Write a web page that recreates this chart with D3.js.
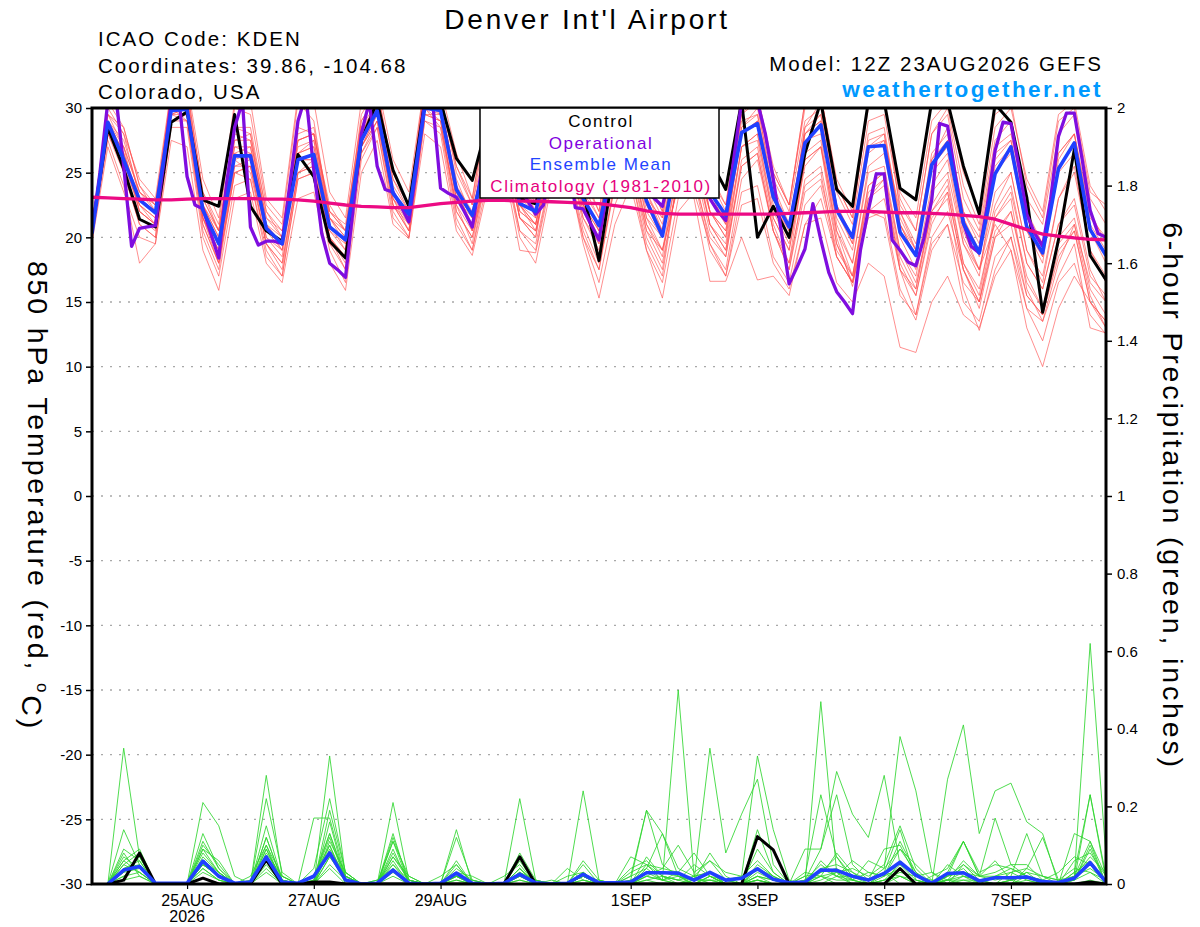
<!DOCTYPE html>
<html>
<head>
<meta charset="utf-8">
<script src="https://cdn.jsdelivr.net/npm/d3@7"></script>
<style>
  body { margin: 0; background: #fff; }
  text { font-family: "Liberation Sans", Arial, Helvetica, sans-serif; }
</style>
</head>
<body>
<svg id="chart" width="1200" height="927"></svg>
<script>
// run: 12Z 23AUG2026, 6-hourly ensemble, 3-hourly operational
const runStart = Date.UTC(2026, 7, 23, 12);
const runEnd = Date.UTC(2026, 8, 8, 12);
const dateTicks = [
  Date.UTC(2026, 7, 25), Date.UTC(2026, 7, 27), Date.UTC(2026, 7, 29),
  Date.UTC(2026, 8, 1), Date.UTC(2026, 8, 3), Date.UTC(2026, 8, 5), Date.UTC(2026, 8, 7)
];
const tempTicks = [-30, -25, -20, -15, -10, -5, 0, 5, 10, 15, 20, 25, 30];
const tempGrid = [-25, -20, -15, -10, -5, 0, 5, 10, 15, 20, 25];
const precipTicks = [0, 0.2, 0.4, 0.6, 0.8, 1, 1.2, 1.4, 1.6, 1.8, 2];
const legendItems = ["Control", "Operational", "Ensemble Mean", "Climatology (1981-2010)"];

// 850 hPa temperature (C), 6-hourly from 12Z 23AUG
const controlTemp = [20.6, 28.5, 25.3, 21.4, 20.8, 28.9, 29.7, 22.9, 22.4, 29.5, 22.4, 20.5, 19.7,
  26.4, 24.7, 19.7, 18.4, 27.5, 30.5, 25.2, 22.4, 30.5, 30.5, 26.1, 24.4, 29.0, 30.0, 23.0, 22.6,
  27.0, 28.5, 23.5, 18.2, 26.0, 28.5, 25.0, 23.5, 28.0, 29.5, 26.0, 23.7, 30.5, 20.0, 22.4, 20.0,
  26.5, 30.5, 23.7, 22.4, 30.5, 30.5, 23.8, 22.9, 30.5, 30.5, 25.5, 21.8, 30.3, 28.9, 23.1, 14.2,
  19.8, 26.8, 18.6, 16.7];

const meanTemp = [20.3, 28.9, 26.0, 22.9, 21.9, 29.8, 29.9, 22.1, 19.5, 26.3, 26.3, 20.7, 19.5,
  26.0, 26.4, 20.8, 19.8, 27.5, 29.8, 23.4, 21.8, 30.0, 29.8, 23.7, 21.7, 26.5, 28.0, 22.6, 22.0,
  26.8, 27.5, 23.0, 20.9, 26.5, 27.0, 22.8, 20.1, 26.5, 27.2, 23.5, 21.7, 28.1, 28.8, 23.1, 20.8,
  27.3, 28.7, 22.1, 20.0, 27.0, 27.1, 20.4, 18.6, 25.6, 27.3, 21.1, 18.8, 24.9, 27.0, 20.8, 18.8,
  25.3, 27.3, 20.6, 18.6];

// operational run, 3-hourly
const operationalTemp = [20.5, 25.0, 30.5, 31.0, 25.5, 19.3, 20.7, 20.8, 20.9, 25.5,
  30.5, 30.5, 24.7, 22.5, 22.2, 20.3, 18.4, 24.2, 28.5, 30.5,
  20.8, 19.4, 19.7, 19.7, 19.5, 24.2, 29.0, 31.0, 25.2, 20.3,
  18.0, 17.5, 16.9, 22.4, 28.0, 30.5, 25.5, 23.7, 23.5, 22.4,
  21.2, 25.5, 30.5, 30.5, 23.8, 23.4, 23.1, 22.0, 20.8, 24.5,
  28.0, 29.5, 28.0, 25.5, 24.0, 22.8, 21.8, 22.5, 26.0, 29.0,
  27.0, 22.3, 22.2, 21.0, 19.8, 23.5, 28.0, 29.5, 27.5, 24.5,
  23.5, 23.0, 22.4, 25.0, 28.5, 29.5, 28.0, 25.0, 23.0, 22.0,
  21.3, 26.0, 30.5, 31.0, 30.5, 28.0, 24.5, 20.5, 16.4, 17.7,
  19.1, 22.6, 19.8, 17.3, 15.8, 15.0, 14.1, 19.0, 22.1, 24.9,
  24.9, 19.8, 19.0, 18.1, 17.8, 19.9, 22.9, 28.8, 28.6, 24.7,
  21.1, 19.3, 18.8, 22.4, 26.7, 28.9, 28.8, 25.5, 21.8, 20.3,
  19.3, 22.9, 27.8, 29.6, 29.6, 26.0, 22.1, 20.3, 20.0];

const climTemp = [23.1, 23.05, 23.0, 22.95, 22.9, 22.9, 22.95, 23.0, 23.0, 23.0, 23.0, 22.95, 22.95,
  22.9, 22.8, 22.65, 22.5, 22.4, 22.35, 22.3, 22.3, 22.45, 22.6, 22.7, 22.8, 22.85, 22.85, 22.8, 22.8,
  22.75, 22.7, 22.65, 22.6, 22.45, 22.3, 22.05, 21.85, 21.8, 21.8, 21.8, 21.8, 21.8, 21.8, 21.8, 21.85,
  21.9, 21.95, 22.0, 22.0, 22.0, 21.95, 21.9, 21.9, 21.85, 21.8, 21.7, 21.6, 21.4, 21.0, 20.6, 20.25,
  20.1, 19.95, 19.85, 19.8];

// ensemble members
const memberTemp = [
  [20.8, 29.5,27.0,23.5,22.5, 30.8,31.0,23.0,20.5, 28.0,27.5,21.5,20.5, 27.5,28.0,22.0,21.0, 29.0,31.0,24.5,22.5, 31.0,31.0,25.0,22.5, 28.0,29.5,24.0,22.5, 28.5,29.0,24.0,21.5, 28.0,29.0,24.0,21.5, 28.5,29.0,24.5,22.5, 30.0,30.5,24.5,22.0, 29.0,30.0,23.5,21.0, 29.0,29.5,22.5,20.5, 28.0,29.5,23.0,20.5, 27.5,29.0,23.0,21.0, 28.0,29.5,23.0,21.0],
  [20.0, 28.0,25.0,21.0,20.0, 29.0,29.5,21.0,18.0, 25.0,25.5,19.5,18.0, 25.0,25.5,19.5,18.5, 26.5,29.0,22.5,20.5, 29.5,29.0,22.0,20.0, 25.0,27.0,21.5,20.5, 25.5,26.5,21.5,19.0, 25.0,26.0,21.0,18.5, 25.5,26.0,22.0,20.0, 27.0,27.5,21.5,19.0, 25.5,27.0,20.5,18.0, 25.0,25.5,19.0,17.0, 23.5,25.0,19.5,17.5, 22.5,25.0,19.0,17.0, 23.0,25.5,19.0,17.0],
  [20.5, 30.5,28.5,24.0,22.0, 31.5,31.5,23.5,21.0, 30.0,29.5,22.5,21.0, 30.5,29.0,21.5,20.0, 28.5,31.5,25.0,22.5, 32.0,30.5,25.5,23.0, 30.0,31.0,24.5,22.0, 29.0,30.5,23.5,20.5, 29.5,30.0,22.5,20.0, 28.0,30.0,23.0,21.0, 29.5,31.0,25.5,22.5, 30.0,31.0,24.0,21.5, 30.5,31.0,22.0,19.0, 26.0,28.5,22.0,20.0, 27.0,28.0,22.0,19.5, 26.5,28.0,21.5,20.0],
  [20.2, 28.5,26.0,22.0,21.0, 30.0,29.0,21.5,19.0, 26.0,26.5,20.0,19.0, 26.5,27.0,20.5,19.5, 27.5,30.0,23.5,21.5, 30.5,29.5,23.0,21.0, 27.0,28.0,22.0,21.0, 26.5,27.0,22.0,20.0, 25.5,26.5,21.0,19.0, 24.0,24.5,19.0,17.0, 22.5,23.0,18.0,16.0, 21.0,21.5,16.5,15.0, 18.0,17.0,11.5,11.1, 15.0,17.0,14.0,13.0, 17.0,19.0,14.5,12.0, 16.5,18.0,14.0,12.5],
  [20.4, 29.0,26.5,23.0,22.0, 30.5,30.5,22.5,19.5, 27.0,27.0,21.0,19.5, 26.0,26.0,20.5,19.0, 28.0,30.5,23.0,21.5, 30.5,30.5,24.0,22.0, 27.5,28.5,23.5,22.5, 27.5,28.0,22.5,20.5, 27.0,28.5,23.5,21.0, 27.5,28.5,23.5,21.5, 29.0,29.5,23.5,21.0, 28.0,29.5,22.5,20.0, 27.5,28.0,21.0,19.0, 25.0,26.5,20.0,17.5, 21.0,19.0,13.0,10.0, 14.5,17.0,15.0,13.0],
  [19.8, 27.5,24.0,18.0,19.5, 28.5,28.5,20.0,17.0, 24.0,24.5,18.5,17.0, 24.5,25.0,19.0,16.5, 26.0,28.5,21.5,20.0, 29.0,28.0,21.0,19.0, 25.5,27.0,22.0,21.0, 26.0,27.5,22.5,20.0, 26.5,27.5,23.0,20.5, 26.0,27.0,22.0,20.5, 28.0,29.0,23.0,20.5, 28.5,30.5,22.5,20.0, 28.0,28.5,21.0,18.5, 25.5,27.5,21.5,19.0, 26.0,27.5,20.5,18.5, 25.5,27.0,20.5,18.5],
  [20.6, 29.0,27.5,23.5,22.0, 31.0,30.5,22.5,20.0, 27.5,28.0,21.0,20.0, 27.0,27.5,21.5,20.5, 28.0,30.5,24.0,22.0, 31.0,30.0,24.5,21.5, 27.0,28.5,22.5,21.0, 27.0,28.5,22.0,19.5, 26.0,26.5,20.5,19.0, 24.0,23.0,16.6,16.6, 20.0,16.7,17.0,15.5, 21.0,23.0,18.5,16.5, 23.0,24.0,17.5,15.5, 21.0,23.5,17.5,15.0, 20.5,22.0,17.0,14.5, 20.0,21.5,16.0,14.0],
  [20.3, 28.0,26.5,22.5,21.5, 29.5,30.0,22.0,18.5, 26.0,25.0,19.5,18.0, 25.0,25.5,20.0,18.0, 27.0,29.5,22.5,21.0, 30.0,29.0,22.5,19.5, 26.0,26.5,20.5,19.5, 25.0,26.0,20.0,17.5, 24.5,25.0,19.5,17.0, 25.0,25.5,20.5,18.5, 26.0,27.0,21.0,18.0, 24.0,25.0,18.5,16.5, 22.0,21.5,15.5,14.0, 19.5,21.0,15.0,13.5, 18.5,20.0,15.5,14.0, 19.0,20.5,15.0,13.5],
  [20.9, 30.0,28.0,24.5,23.0, 31.5,32.0,24.5,21.5, 30.5,30.5,23.0,21.5, 31.0,30.5,23.5,21.5, 30.5,32.0,26.0,23.5, 32.0,31.5,26.5,23.0, 30.5,31.5,25.5,22.5, 30.0,31.0,25.0,22.0, 30.0,30.5,24.5,22.0, 30.5,31.0,25.0,22.5, 31.0,31.0,25.0,22.5, 30.5,31.0,24.5,22.0, 30.0,30.5,23.5,21.5, 29.0,30.5,25.0,22.0, 29.5,30.5,24.0,21.5, 29.0,30.0,23.5,22.5],
  [20.1, 28.5,25.5,21.5,20.5, 29.5,30.0,21.5,18.0, 25.5,26.0,20.0,18.5, 26.0,26.0,20.0,17.5, 27.0,29.0,23.0,20.5, 29.5,29.5,23.5,21.0, 26.5,28.0,22.5,20.5, 26.0,27.0,21.0,18.0, 24.0,25.5,20.0,17.5, 25.0,26.0,21.0,19.0, 25.5,26.5,20.5,17.5, 23.5,24.5,19.0,17.0, 24.0,25.0,19.0,16.5, 22.0,24.0,18.0,16.0, 21.5,23.0,16.0,13.5, 18.0,21.0,16.5,15.0],
  [20.7, 29.5,28.0,23.0,22.0, 30.0,31.0,23.0,20.5, 28.5,28.0,22.0,20.0, 28.0,28.5,22.0,20.5, 29.0,31.0,25.0,22.5, 31.5,30.5,24.0,20.5, 26.0,27.5,21.5,20.0, 27.5,29.0,23.0,21.0, 28.5,29.5,23.5,20.5, 27.0,28.0,22.0,20.0, 28.5,30.0,24.0,21.0, 28.0,29.0,21.0,18.0, 25.5,26.5,20.0,17.5, 24.0,26.0,19.5,17.0, 25.0,26.5,20.5,18.0, 26.0,28.0,21.0,19.0],
  [19.6, 27.0,23.5,20.0,19.5, 27.5,27.0,19.0,15.9, 23.0,23.5,18.0,16.5, 23.0,23.5,18.0,15.9, 25.0,27.5,21.0,19.9, 28.0,27.0,20.5,18.6, 24.0,25.5,19.0,18.8, 24.5,25.5,19.5,15.3, 21.0,24.0,19.0,15.3, 22.0,23.5,19.5,17.5, 24.5,26.0,20.5,18.0, 26.0,27.0,21.5,19.0, 26.5,27.5,22.0,19.5, 26.0,27.5,21.5,18.5, 25.5,27.0,21.0,18.5, 25.0,26.5,20.5,18.0],
  [20.5, 29.0,26.0,22.5,21.0, 30.5,30.0,22.0,19.5, 26.5,27.0,21.0,19.0, 26.5,27.0,21.5,19.5, 27.5,30.0,23.5,21.5, 30.5,30.0,23.5,21.5, 27.5,29.0,23.0,22.0, 28.0,28.5,23.0,21.0, 27.5,28.5,22.5,20.5, 28.0,29.0,23.0,21.5, 29.5,30.5,23.0,20.0, 27.5,28.0,20.5,17.0, 23.0,24.5,18.0,15.5, 21.5,23.0,16.0,12.8, 17.5,20.0,14.5,13.5, 17.0,19.5,13.0,12.6],
  [20.2, 28.0,27.0,23.5,22.5, 31.0,30.0,21.5,19.0, 26.5,26.0,20.5,19.5, 26.5,27.5,21.0,19.0, 28.5,30.5,24.5,22.0, 31.0,30.5,23.5,20.5, 25.5,27.0,21.5,20.0, 26.5,28.0,22.5,21.0, 28.0,28.0,21.5,19.0, 25.5,26.5,21.0,19.5, 27.0,28.0,22.0,19.5, 26.5,27.5,20.0,16.2, 22.0,23.0,17.5,16.0, 22.5,24.5,18.0,15.5, 22.0,24.0,18.0,16.0, 21.0,22.5,17.0,15.5],
  [20.4, 29.0,27.0,22.0,21.0, 29.5,29.5,21.5,18.5, 25.5,25.5,19.5,17.5, 25.0,26.0,20.0,18.5, 27.0,29.5,23.5,21.0, 30.0,28.5,21.5,19.0, 24.5,26.0,20.5,19.0, 25.0,26.0,20.5,17.5, 24.0,25.0,19.0,16.5, 23.0,24.5,20.0,18.5, 25.5,26.5,20.5,17.5, 24.5,25.5,19.5,17.0, 23.5,24.5,17.5,14.0, 20.0,22.0,17.5,15.0, 20.0,22.0,16.5,14.5, 19.5,21.0,15.5,13.0],
  [20.6, 29.5,28.5,24.0,22.5, 30.5,31.5,23.5,20.5, 28.5,28.5,22.0,20.5, 28.5,28.0,22.5,20.5, 29.5,31.5,25.0,22.5, 31.5,31.0,25.5,22.5, 29.5,30.5,24.0,21.5, 29.0,30.0,24.5,22.0, 29.5,30.5,24.5,22.0, 29.0,30.5,24.5,22.0, 30.0,31.0,25.0,22.5, 30.5,31.0,24.0,21.5, 30.5,30.5,23.0,20.5, 28.0,30.0,24.0,21.0, 28.5,30.0,24.5,22.0, 29.5,30.5,24.0,22.0],
  [20.0, 28.5,25.0,21.0,20.0, 29.0,29.0,20.5,17.5, 25.0,24.5,19.0,17.0, 24.5,25.0,19.5,17.5, 26.5,28.5,22.0,20.0, 29.0,28.5,22.5,20.5, 25.0,26.0,20.0,18.0, 24.0,25.0,20.0,16.5, 22.5,25.5,20.5,18.0, 24.5,25.0,19.5,17.0, 23.5,24.0,18.5,16.5, 22.5,24.0,18.5,16.5, 21.5,22.0,16.0,13.6, 19.0,21.0,16.5,15.0, 21.5,23.5,18.0,16.0, 21.0,23.0,17.5,15.0],
  [20.3, 29.0,26.5,22.0,21.0, 30.0,30.5,22.5,20.0, 27.0,26.5,20.5,19.0, 27.5,28.0,21.5,20.0, 28.0,30.0,23.0,21.0, 30.5,30.0,23.0,21.5, 28.0,29.0,22.5,21.0, 27.0,28.5,22.5,20.5, 27.5,28.0,22.0,20.0, 27.0,28.0,22.0,20.5, 28.0,29.0,22.5,20.5, 28.5,29.5,22.5,19.5, 27.0,27.5,21.0,18.5, 25.5,27.0,20.5,17.5, 23.5,25.0,19.0,16.5, 23.0,25.0,19.0,16.5],
  [20.5, 28.5,26.0,23.0,22.0, 30.0,30.0,22.5,20.5, 27.5,27.5,21.5,20.0, 27.5,28.0,22.0,20.5, 28.5,30.0,23.5,21.5, 30.0,29.5,23.0,21.0, 27.0,28.0,22.5,21.5, 28.5,29.5,23.5,21.5, 28.0,28.5,23.0,21.5, 28.5,29.5,23.5,21.0, 28.5,29.5,23.0,21.0, 28.0,29.0,22.0,19.5, 27.0,28.0,21.5,19.0, 26.5,28.0,22.0,19.5, 26.5,27.5,21.5,19.5, 26.5,28.0,22.0,19.5],
  [20.2, 28.0,25.5,22.5,21.5, 29.5,29.0,21.0,18.0, 25.0,25.5,20.5,19.5, 26.0,26.5,20.0,18.5, 27.0,29.0,22.5,20.5, 29.5,29.0,22.0,20.0, 26.0,27.5,21.5,20.5, 26.0,27.0,21.5,19.5, 25.5,27.0,21.5,20.0, 26.5,27.0,21.0,19.0, 27.0,28.0,21.5,19.0, 26.0,27.0,19.5,16.5, 24.0,25.0,18.5,16.0, 22.0,23.5,17.5,14.5, 20.0,21.0,15.5,14.0, 18.5,20.5,15.0,13.5]
];

// 6-hour precipitation (inches), valid 18Z 23AUG onwards
const controlPrecip = [0, 0.01, 0.08, 0, 0, 0, 0.015, 0, 0, 0, 0.062, 0, 0, 0.005, 0.005, 0,
  0, 0, 0, 0, 0, 0, 0, 0, 0, 0, 0.07, 0, 0, 0, 0, 0,
  0, 0, 0, 0, 0, 0, 0, 0, 0, 0.122, 0.088, 0, 0, 0, 0, 0,
  0, 0, 0.04, 0, 0, 0, 0, 0, 0, 0, 0, 0, 0, 0, 0.005, 0];

const meanPrecip = [0, 0.036, 0.045, 0.002, 0.002, 0.002, 0.059, 0.02, 0.002, 0.005, 0.07, 0.005, 0.002, 0.02, 0.08, 0.01,
  0, 0.002, 0.036, 0.002, 0, 0.002, 0.028, 0.002, 0, 0.002, 0.025, 0.003, 0, 0.002, 0.025, 0.003,
  0.003, 0.005, 0.029, 0.029, 0.028, 0.01, 0.03, 0.01, 0.015, 0.039, 0.012, 0.003, 0.005, 0.036, 0.035, 0.02,
  0.01, 0.027, 0.056, 0.023, 0.002, 0.027, 0.029, 0.008, 0.016, 0.016, 0.018, 0.006, 0.004, 0.015, 0.055, 0.005];

const memberPrecip = [
  [0,0.35,0.07,0,0,0,0.05,0.02, 0,0,0.06,0.01,0,0,0.07,0.01, 0,0,0.04,0,0,0,0.02,0, 0,0,0.03,0,0,0,0.02,0, 0,0,0.03,0.01,0,0,0.02,0, 0,0.04,0.01,0,0,0.02,0,0, 0,0.03,0,0,0,0.02,0.04,0, 0,0.01,0,0,0,0.02,0.05,0],
  [0,0.14,0.05,0,0,0,0.21,0.15, 0.02,0,0.09,0,0,0.02,0.10,0.01, 0,0,0.05,0.01,0,0,0.03,0, 0,0,0.04,0,0,0,0.02,0, 0,0,0.01,0,0,0.01,0.35,0.08, 0.18,0.27,0.05,0,0,0,0.02,0.01, 0,0,0.06,0.02,0,0,0.01,0, 0,0,0.02,0,0,0,0.01,0],
  [0,0.06,0.09,0,0,0,0.13,0.04, 0,0,0.28,0.02,0,0,0.33,0.02, 0,0,0.21,0.01,0,0,0.06,0, 0,0,0.03,0.01,0,0,0.02,0, 0,0.02,0.04,0.01,0.50,0.02,0,0, 0,0.01,0,0,0,0.47,0.03,0, 0,0,0.02,0,0,0.01,0,0, 0,0.03,0.01,0,0,0.02,0.62,0.07],
  [0,0.03,0.07,0,0,0,0.09,0.06, 0,0,0.22,0.03,0,0.17,0.17,0.02, 0,0,0.11,0.02,0,0,0.14,0, 0,0,0.22,0.01,0,0,0.03,0, 0,0.01,0.19,0.05,0.02,0,0.02,0.01, 0,0.09,0.03,0,0.02,0.23,0.07,0.02, 0.01,0.04,0.38,0.24,0.03,0,0.02,0.01, 0,0,0.01,0,0,0.01,0.09,0],
  [0,0.04,0.05,0,0,0,0.05,0.02, 0,0,0.12,0.01,0,0.04,0.22,0.03, 0,0,0.07,0.02,0,0,0.02,0, 0,0,0.06,0,0,0,0.24,0.01, 0,0,0.04,0.13,0.02,0.01,0.03,0, 0,0.01,0,0,0.01,0.09,0.23,0.05, 0.01,0.03,0.02,0.01,0,0.27,0.41,0.13, 0.24,0.26,0.16,0.13,0,0.01,0.23,0.02],
  [0,0.08,0.02,0,0,0,0.08,0.03, 0,0.01,0.07,0,0,0.02,0.13,0.01, 0,0,0.09,0,0,0,0.02,0.01, 0,0,0.04,0,0,0.02,0.03,0, 0,0,0.02,0.04,0.10,0.03,0.06,0.01, 0,0.02,0.01,0,0.02,0.03,0.07,0.01, 0.06,0.04,0.09,0.05,0.01,0,0.05,0.02, 0.03,0.05,0.05,0.01,0,0.13,0.11,0],
  [0,0.05,0.03,0,0,0,0.06,0.02, 0,0,0.15,0.01,0,0,0.07,0.02, 0,0,0.12,0.01,0,0,0.04,0.01, 0,0.02,0.05,0,0,0.04,0.01,0, 0,0.07,0.05,0.04,0.03,0.01,0.08,0.02, 0,0.14,0.03,0,0.01,0.05,0.02,0.06, 0.03,0.02,0.11,0.03,0,0.01,0.06,0.02, 0.17,0.05,0.02,0.01,0.03,0.07,0.05,0.01],
  [0,0.07,0.04,0,0,0,0.10,0.05, 0,0,0.09,0.01,0,0,0.19,0.03, 0,0,0.08,0.01,0,0.02,0.05,0, 0,0,0.03,0,0.01,0,0.02,0.01, 0,0.04,0.06,0.02,0.01,0.05,0.02,0, 0,0.03,0.01,0,0,0.01,0.03,0.04, 0.02,0.05,0.15,0.04,0,0.03,0.11,0.02, 0.01,0.02,0.13,0.02,0,0.06,0.08,0.02],
  [0,0.05,0.08,0,0,0,0.04,0.01, 0,0.02,0.10,0,0,0,0.16,0.01, 0,0,0.06,0,0,0,0.03,0.02, 0,0,0.08,0.01,0,0,0.06,0.01, 0,0.01,0.03,0.03,0.02,0.01,0.01,0.01, 0.02,0.06,0.02,0,0.03,0.02,0.08,0.03, 0.01,0.09,0.10,0.02,0.01,0.01,0.03,0, 0.02,0.04,0.02,0,0,0.01,0.03,0],
  [0,0.03,0.04,0,0,0,0.07,0.03, 0,0,0.06,0,0,0.01,0.12,0.01, 0,0.01,0.04,0,0,0,0.02,0, 0,0,0.02,0.01,0,0,0.03,0, 0,0,0.07,0.02,0,0.02,0.03,0, 0,0.05,0.02,0,0,0.02,0.01,0.01, 0,0.01,0.05,0.01,0,0.05,0.02,0.01, 0,0,0.04,0.12,0.01,0.01,0.10,0],
  [0,0.02,0.05,0,0,0,0.05,0.02, 0,0,0.08,0.02,0,0,0.09,0.02, 0,0,0.13,0,0,0,0.02,0, 0,0,0.03,0,0,0,0.02,0, 0,0,0.02,0.01,0.03,0.08,0.02,0, 0,0.02,0.01,0,0,0.06,0.02,0.02, 0,0.01,0.03,0.02,0.03,0.01,0.01,0.01, 0,0.01,0.02,0,0,0.03,0.06,0.01],
  [0,0.06,0.03,0,0,0,0.11,0.04, 0,0,0.05,0,0,0,0.10,0, 0,0.01,0.05,0,0,0,0.01,0, 0,0,0.01,0,0,0,0.02,0, 0,0,0.05,0.01,0.02,0,0.02,0, 0,0.02,0,0,0,0.04,0.05,0.03, 0,0.02,0.04,0,0,0.02,0.03,0.02, 0.02,0.01,0.03,0,0,0.02,0.04,0.01],
  [0,0.04,0.06,0,0,0,0.09,0.03, 0,0,0.12,0.01,0,0.01,0.13,0.02, 0,0,0.11,0,0,0,0.12,0.01, 0,0,0.02,0,0,0,0.05,0, 0,0.02,0.19,0.13,0.04,0.02,0.06,0.03, 0.02,0.33,0.14,0.01,0,0.04,0.02,0, 0,0.03,0.14,0.01,0,0.02,0.11,0.03, 0.05,0.04,0.02,0.01,0,0.02,0.11,0.02],
  [0,0.02,0.03,0,0,0,0.04,0.01, 0,0,0.04,0,0,0,0.05,0.01, 0,0,0.03,0,0,0,0.02,0, 0,0,0.02,0,0,0,0.01,0, 0,0,0.01,0.02,0.01,0,0.01,0, 0,0.01,0,0,0.09,0.09,0.29,0.18, 0.12,0.28,0.05,0.02,0,0.01,0.02,0, 0,0.01,0.02,0,0,0.03,0.23,0.01],
  [0,0.01,0.02,0,0,0,0.03,0.01, 0,0,0.03,0,0,0,0.04,0, 0,0,0.02,0,0,0,0.01,0, 0,0,0.01,0,0,0,0.01,0, 0,0,0.02,0.01,0,0.01,0.01,0, 0,0.01,0,0,0.01,0.02,0.03,0.01, 0,0.01,0.02,0,0.02,0.04,0.11,0.02, 0.06,0.01,0.03,0.02,0.01,0.04,0.03,0.01],
  [0,0.09,0.06,0,0,0,0.06,0.03, 0,0,0.10,0.02,0,0,0.11,0.03, 0,0,0.07,0.01,0,0,0.05,0, 0,0,0.04,0,0,0,0.03,0, 0,0.03,0.05,0.02,0.01,0.02,0.03,0.01, 0,0.04,0.02,0,0,0.03,0.04,0.01, 0.03,0.02,0.09,0.03,0,0.02,0.05,0.01, 0.02,0.03,0.04,0.02,0.01,0.02,0.07,0.03]
];

const width = 1200, height = 927;
const plot = { left: 92, right: 1106, top: 108, bottom: 884 };
const sixHours = 6 * 3600 * 1000, threeHours = 3 * 3600 * 1000;

const svg = d3.select("#chart");

const x = d3.scaleUtc()
  .domain([new Date(runStart), new Date(runEnd)])
  .range([plot.left, plot.right]);

const yT = d3.scaleLinear().domain([-30, 30]).range([plot.bottom, plot.top]);
const yP = d3.scaleLinear().domain([0, 2]).range([plot.bottom, plot.top]);

svg.append("defs").append("clipPath")
  .attr("id", "plot-clip")
  .append("rect")
  .attr("x", plot.left).attr("y", plot.top)
  .attr("width", plot.right - plot.left)
  .attr("height", plot.bottom - plot.top);

// dotted grid on the temperature ticks
svg.append("g")
  .selectAll("line")
  .data(tempGrid)
  .join("line")
  .attr("x1", plot.left).attr("x2", plot.right)
  .attr("y1", d => yT(d)).attr("y2", d => yT(d))
  .attr("stroke", "#a8a8a8")
  .attr("stroke-width", 1.3)
  .attr("stroke-dasharray", "2,7");

const lines = svg.append("g").attr("clip-path", "url(#plot-clip)");

const tempLine = d3.line()
  .x((d, i) => x(new Date(runStart + i * sixHours)))
  .y(d => yT(d));

const opLine = d3.line()
  .x((d, i) => x(new Date(runStart + i * threeHours)))
  .y(d => yT(d));

// precipitation starts at the first 6-hour period
const precipLine = d3.line()
  .x((d, i) => x(new Date(runStart + (i + 1) * sixHours)))
  .y(d => yP(d));

// members first
lines.append("g")
  .selectAll("path")
  .data(memberTemp)
  .join("path")
  .attr("d", tempLine)
  .attr("fill", "none")
  .attr("stroke", "#ff4f4f")
  .attr("stroke-opacity", 0.85)
  .attr("stroke-width", 0.75);

lines.append("g")
  .selectAll("path")
  .data(memberPrecip)
  .join("path")
  .attr("d", precipLine)
  .attr("fill", "none")
  .attr("stroke", "#2fd62f")
  .attr("stroke-width", 0.85);

// thick lines
lines.append("path").datum(controlPrecip).attr("d", precipLine)
  .attr("fill", "none").attr("stroke", "#000").attr("stroke-width", 3)
  .attr("stroke-linejoin", "round");
lines.append("path").datum(meanPrecip).attr("d", precipLine)
  .attr("fill", "none").attr("stroke", "#2040ff").attr("stroke-width", 3.6)
  .attr("stroke-linejoin", "round");

lines.append("path").datum(controlTemp).attr("d", tempLine)
  .attr("fill", "none").attr("stroke", "#000").attr("stroke-width", 3)
  .attr("stroke-linejoin", "round");
lines.append("path").datum(operationalTemp).attr("d", opLine)
  .attr("fill", "none").attr("stroke", "#7f0ddf").attr("stroke-width", 3.3)
  .attr("stroke-linejoin", "round");
lines.append("path").datum(meanTemp).attr("d", tempLine)
  .attr("fill", "none").attr("stroke", "#2040ff").attr("stroke-width", 3.6)
  .attr("stroke-linejoin", "round");
lines.append("path").datum(climTemp).attr("d", tempLine)
  .attr("fill", "none").attr("stroke", "#ec0a84").attr("stroke-width", 3.3)
  .attr("stroke-linejoin", "round");

// axes
const tickFont = g => g.selectAll("text")
  .style("font-family", "'Liberation Sans', Arial, sans-serif")
  .attr("fill", "#000");

svg.append("g")
  .attr("transform", `translate(${plot.left},0)`)
  .call(d3.axisLeft(yT).tickValues(tempTicks).tickSize(6).tickPadding(4).tickFormat(d => String(d)))
  .call(g => g.select(".domain").remove())
  .call(g => g.selectAll("line").attr("stroke-width", 1.5))
  .call(g => g.selectAll("text").style("font-size", "15px"))
  .call(tickFont);

svg.append("g")
  .attr("transform", `translate(${plot.right},0)`)
  .call(d3.axisRight(yP).tickValues(precipTicks).tickSize(6).tickPadding(5).tickFormat(d3.format("~g")))
  .call(g => g.select(".domain").remove())
  .call(g => g.selectAll("line").attr("stroke-width", 1.5))
  .call(g => g.selectAll("text").style("font-size", "15px"))
  .call(tickFont);

svg.append("g")
  .attr("transform", `translate(0,${plot.bottom})`)
  .call(d3.axisBottom(x)
    .tickValues(dateTicks.map(d => new Date(d)))
    .tickSize(5)
    .tickPadding(6)
    .tickFormat(d => d3.utcFormat("%-d%b")(d).toUpperCase()))
  .call(g => g.select(".domain").remove())
  .call(g => g.selectAll("line").attr("stroke-width", 1.2))
  .call(g => g.selectAll("text").style("font-size", "16px"))
  .call(tickFont);

svg.append("text")
  .attr("x", x(new Date(dateTicks[0])))
  .attr("y", 922)
  .attr("text-anchor", "middle")
  .style("font-size", "16px")
  .text("2026");

// frame
svg.append("rect")
  .attr("x", plot.left).attr("y", plot.top)
  .attr("width", plot.right - plot.left)
  .attr("height", plot.bottom - plot.top)
  .attr("fill", "none")
  .attr("stroke", "#000")
  .attr("stroke-width", 3);

// legend box over the lines
const legendColors = ["#000000", "#8000e0", "#2244ff", "#e6007e"];
const legend = svg.append("g");
legend.append("rect")
  .attr("x", 480).attr("y", plot.top)
  .attr("width", 239).attr("height", 90)
  .attr("fill", "#fff")
  .attr("stroke", "#000")
  .attr("stroke-width", 1.5);
legend.selectAll("text")
  .data(legendItems)
  .join("text")
  .attr("x", 601)
  .attr("y", (d, i) => 127 + i * 21.6)
  .attr("text-anchor", "middle")
  .attr("fill", (d, i) => legendColors[i])
  .style("font-size", "17px")
  .style("letter-spacing", "0.09em")
  .text(d => d);

// titles
svg.append("text")
  .attr("x", 587).attr("y", 29)
  .attr("text-anchor", "middle")
  .style("font-size", "28px")
  .style("letter-spacing", "0.1em")
  .text("Denver Int'l Airport");

const infoLines = ["ICAO Code: KDEN", "Coordinates: 39.86, -104.68", "Colorado, USA"];
svg.append("g")
  .selectAll("text")
  .data(infoLines)
  .join("text")
  .attr("x", 98)
  .attr("y", (d, i) => 46 + i * 26.5)
  .style("font-size", "20.5px")
  .style("letter-spacing", "0.1em")
  .text(d => d);

svg.append("text")
  .attr("x", 1103).attr("y", 71)
  .attr("text-anchor", "end")
  .style("font-size", "20.5px")
  .style("letter-spacing", "0.1em")
  .text("Model: 12Z 23AUG2026 GEFS");

svg.append("text")
  .attr("x", 1103).attr("y", 97)
  .attr("text-anchor", "end")
  .attr("fill", "#0099ff")
  .style("font-size", "22.5px")
  .style("font-weight", "bold")
  .style("letter-spacing", "0.11em")
  .text("weathertogether.net");

// axis titles, both read top to bottom
const leftTitle = svg.append("text")
  .attr("transform", `translate(28,${(plot.top + plot.bottom) / 2}) rotate(90)`)
  .attr("text-anchor", "middle")
  .style("font-size", "28.5px")
  .style("letter-spacing", "0.1em");
leftTitle.append("tspan").text("850 hPa Temperature (red, ");
leftTitle.append("tspan").attr("dy", "-0.55em").style("font-size", "17px").text("o");
leftTitle.append("tspan").attr("dy", "0.55em").text("C)");

svg.append("text")
  .attr("transform", `translate(1163,${(plot.top + plot.bottom) / 2}) rotate(90)`)
  .attr("text-anchor", "middle")
  .style("font-size", "28.5px")
  .style("letter-spacing", "0.1em")
  .text("6-hour Precipitation (green, inches)");
</script>
</body>
</html>
